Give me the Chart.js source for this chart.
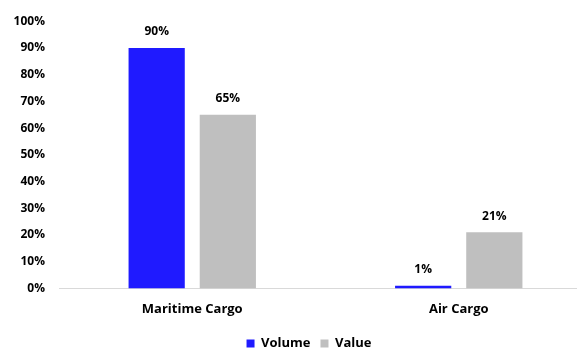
<!DOCTYPE html>
<html lang="en">
<head>
    <meta charset="UTF-8">
    <title>Cargo Volume vs Value</title>
    <script src="https://cdn.jsdelivr.net/npm/chart.js"></script>
    <style>
        html, body {
            margin: 0;
            padding: 0;
            background: #ffffff;
            overflow: hidden;
        }
        .chart-box {
            position: relative;
            width: 592px;
            height: 360px;
        }
    </style>
</head>
<body>
    <div class="chart-box">
        <canvas id="cargoChart"></canvas>
    </div>

    <script>
        const categories = ['Maritime Cargo', 'Air Cargo'];
        const volumeShare = [90, 1];
        const valueShare = [65, 21];
        const yTicks = [0, 10, 20, 30, 40, 50, 60, 70, 80, 90, 100];

        const FONT = "'Open Sans', 'Liberation Sans', sans-serif";
        const BOLD = { family: FONT, size: 12, weight: 'bold' };
        const BOLD13 = { family: FONT, size: 13, weight: 'bold' };

        // percentage labels above each bar
        const barLabels = {
            id: 'barLabels',
            afterDatasetsDraw(chart) {
                const ctx = chart.ctx;
                ctx.save();
                ctx.font = 'bold 12px ' + FONT;
                ctx.fillStyle = '#000';
                ctx.textAlign = 'center';
                ctx.textBaseline = 'middle';
                chart.data.datasets.forEach((ds, i) => {
                    chart.getDatasetMeta(i).data.forEach((bar, j) => {
                        ctx.fillText(ds.data[j] + '%', bar.x, bar.y - 16);
                    });
                });
                ctx.restore();
            }
        };

        // nudge the legend a little to the right of the canvas centre
        const legendNudge = {
            id: 'legendNudge',
            afterLayout(chart) {
                if (chart.legend) {
                    chart.legend.left += 7;
                    chart.legend.right += 7;
                }
            }
        };

        new Chart(document.getElementById('cargoChart'), {
            type: 'bar',
            data: {
                labels: categories,
                datasets: [
                    {
                        label: 'Volume',
                        data: volumeShare,
                        backgroundColor: '#1f1aff'
                    },
                    {
                        label: 'Value',
                        data: valueShare,
                        backgroundColor: '#bfbfbf'
                    }
                ]
            },
            options: {
                responsive: true,
                maintainAspectRatio: false,
                animation: false,
                categoryPercentage: 0.534,
                barPercentage: 0.79,
                layout: {
                    padding: { top: 12, left: 12, right: 0, bottom: 0 }
                },
                plugins: {
                    legend: {
                        position: 'bottom',
                        labels: {
                            boxWidth: 8,
                            boxHeight: 8,
                            padding: 10,
                            color: '#000',
                            font: BOLD13
                        }
                    },
                    tooltip: { enabled: false }
                },
                scales: {
                    x: {
                        grid: { display: false },
                        border: { color: '#d9d9d9', width: 1 },
                        ticks: {
                            color: '#000',
                            padding: 5,
                            font: BOLD13
                        },
                        afterFit(axis) {
                            axis.height += 5;
                        }
                    },
                    y: {
                        min: 0,
                        max: 100,
                        afterBuildTicks(axis) {
                            axis.ticks = yTicks.map(v => ({ value: v }));
                        },
                        grid: { display: false, drawTicks: false },
                        border: { display: false },
                        ticks: {
                            color: '#000',
                            padding: 14,
                            font: BOLD,
                            callback: v => v + '%'
                        },
                        afterFit(axis) {
                            axis.width = 47;
                        }
                    }
                }
            },
            plugins: [barLabels, legendNudge]
        });
    </script>
</body>
</html>
